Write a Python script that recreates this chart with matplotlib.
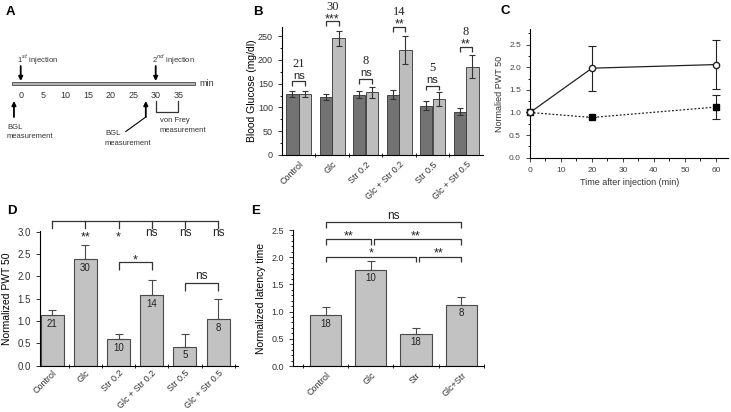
import matplotlib.pyplot as plt
import numpy as np
from matplotlib.ticker import MultipleLocator

plt.rcParams["font.family"] = ["Liberation Sans", "DejaVu Sans"]
plt.rcParams["axes.linewidth"] = 0.8

W, H = 731, 412  # figure size in pixels

# ---- panel A: protocol timeline (minutes)
timeline_ticks = [0, 5, 10, 15, 20, 25, 30, 35]
injection_min = [0, 30]
injection_labels = ["1$^{st}$ injection", "2$^{nd}$ injection"]
bgl_min = [-1.5, 27.8]
vonfrey_window = [30, 35]

# ---- panel B: blood glucose before / after
groups_b = ["Control", "Glc", "Str 0.2", "Glc + Str 0.2", "Str 0.5", "Glc + Str 0.5"]
bg_before = [128, 122, 127, 127, 104, 91]
bg_before_err = [6, 6, 7, 9, 10, 7]
bg_after = [129, 246, 132, 221, 118, 186]
bg_after_err = [6, 16, 12, 29, 14, 24]
n_b = [21, 30, 8, 14, 5, 8]
sig_b = ["ns", "***", "ns", "**", "ns", "**"]
bracket_b = [155, 281, 160, 269, 146, 227]

# ---- panel C: time course
time_c = [0, 20, 60]
pwt_open = [1.0, 1.98, 2.06]
pwt_open_err = [0, 0.50, 0.55]
pwt_filled = [1.0, 0.89, 1.12]
pwt_filled_err = [0, 0, 0.27]

# ---- panel D: normalized PWT 50
pwt_d = [1.13, 2.40, 0.60, 1.59, 0.43, 1.04]
pwt_d_err = [0.13, 0.30, 0.10, 0.34, 0.27, 0.46]
n_d = [21, 30, 10, 14, 5, 8]
sig_d = ["", "**", "*", "ns", "ns", "ns"]

# ---- panel E: normalized latency
groups_e = ["Control", "Glc", "Str", "Glc+Str"]
lat_e = [0.93, 1.76, 0.59, 1.13]
lat_e_err = [0.16, 0.17, 0.10, 0.13]
n_e = [18, 10, 18, 8]

DARK = "#737373"
LIGHT = "#bdbdbd"
BAR = "#c2c2c2"
EDGE = "#4a4a4a"
TXT = "#222222"
STAR = 9

fig = plt.figure(figsize=(W / 100, H / 100), dpi=100)


def px_axes(left, top, right, bottom):
    return fig.add_axes([left / W, 1 - bottom / H, (right - left) / W, (bottom - top) / H])


def bracket(ax, x0, x1, y, drop, lw=0.9):
    ax.plot([x0, x0, x1, x1], [y - drop, y, y, y - drop], color="#333333", lw=lw,
            clip_on=False, solid_capstyle="butt")


def style_axes(ax, labelsize=6.5):
    ax.spines["top"].set_visible(False)
    ax.spines["right"].set_visible(False)
    ax.tick_params(labelsize=labelsize, length=3, width=0.7, colors="#333333")
    ax.tick_params(which="minor", length=1.8, width=0.6)


# panel letters
for letter, (px, py) in {"A": (10, 12), "B": (258, 12), "C": (505, 11),
                         "D": (12, 211), "E": (256, 211)}.items():
    fig.text(px / W, 1 - py / H, letter, fontsize=9.5, fontweight="bold", va="center", ha="center")

# ========================================
# A: timeline diagram (pixel coordinates)
# ========================================
axA = fig.add_axes([0, 1 - 200 / H, 230 / W, 200 / H])
axA.set_xlim(0, 230)
axA.set_ylim(200, 0)
axA.axis("off")


def tx(m):
    return 20.7 + 4.5 * m


axA.add_patch(plt.Rectangle((12, 81.5), 183, 3, facecolor="#b5b5b5", edgecolor="#444444", lw=0.6))
for m in timeline_ticks:
    axA.text(tx(m), 95, str(m), fontsize=6.5, ha="center", va="center", color="#333333")
axA.text(199, 83, "min", fontsize=6.5, ha="left", va="center", color="#333333")

arrow_kw = dict(arrowstyle="-|>", color="black", lw=1.3, mutation_scale=6, shrinkA=0, shrinkB=0)
for m, lab in zip(injection_min, injection_labels):
    axA.annotate("", xy=(tx(m), 81), xytext=(tx(m), 66), arrowprops=arrow_kw)
    axA.text(tx(m) - 4, 60, lab, fontsize=5.5, ha="left", va="center", color="#333333")

for m in bgl_min:
    axA.annotate("", xy=(tx(m), 101), xytext=(tx(m), 117), arrowprops=arrow_kw)
axA.plot([tx(bgl_min[1]), tx(bgl_min[1]) - 20], [117, 131.5], color="black", lw=0.8)
axA.text(7, 132, "BGL\nmeasurement", fontsize=5.5, ha="left", va="center", linespacing=1.5, color="#333333")
axA.text(105, 138.5, "BGL\nmeasurement", fontsize=5.5, ha="left", va="center", linespacing=1.5, color="#333333")

v0, v1 = tx(vonfrey_window[0]), tx(vonfrey_window[1])
axA.plot([v0, v0, v1, v1], [101, 112, 112, 101], color="#333333", lw=0.9)
axA.text(160, 125.5, "von Frey\nmeasurement", fontsize=5.5, ha="left", va="center", linespacing=1.5, color="#333333")

# ========================================
# B: blood glucose
# ========================================
axB = px_axes(282, 26.7, 482.8, 155)
xb = np.arange(len(groups_b))
ekw = dict(ecolor="#333333", elinewidth=0.8, capsize=2.5, capthick=0.8)
axB.bar(xb - 0.19, bg_before, 0.37, yerr=bg_before_err, color=DARK, edgecolor="#333333", lw=0.6, error_kw=ekw)
axB.bar(xb + 0.19, bg_after, 0.37, yerr=bg_after_err, color=LIGHT, edgecolor="#333333", lw=0.6, error_kw=ekw)
axB.set_xlim(-0.5, 5.5)
axB.set_ylim(0, 270)
style_axes(axB)
axB.yaxis.set_major_locator(MultipleLocator(50))
axB.yaxis.set_minor_locator(MultipleLocator(25))
axB.set_xticks(xb)
axB.set_xticks(xb[:-1] + 0.5, minor=True)
axB.tick_params(axis="x", which="major", length=0)
axB.tick_params(axis="x", which="minor", length=2.5, direction="inout")
axB.set_xticklabels(groups_b, rotation=45, ha="right", rotation_mode="anchor")
axB.set_ylabel("Blood Glucose (mg/dl)", fontsize=7.5, labelpad=1)
for i, (h, s, n) in enumerate(zip(bracket_b, sig_b, n_b)):
    bracket(axB, i - 0.19, i + 0.19, h, 10)
    if s == "ns":
        axB.text(i, h + 12, s, fontsize=8, ha="center", va="center", color=TXT)
        n_y = h + 37
    else:
        axB.text(i, h + 5, s, fontsize=STAR, ha="center", va="center", color=TXT, clip_on=False)
        n_y = h + 31
    axB.text(i, n_y, str(n), fontsize=9, ha="center", va="center", family="Liberation Serif",
             color=TXT, clip_on=False)

# ========================================
# C: time course
# ========================================
axC = px_axes(530, 29.3, 728.3, 157.7)
axC.errorbar(time_c, pwt_filled, yerr=pwt_filled_err, color="#222222", lw=0.9, ls=(0, (1.5, 1.5)),
             marker="s", ms=4.5, mfc="black", mec="black", capsize=3, elinewidth=0.8, capthick=0.8,
             clip_on=False, zorder=3)
axC.errorbar(time_c, pwt_open, yerr=pwt_open_err, color="#222222", lw=0.9, ls="-",
             marker="o", ms=4.5, mfc="white", mec="#222222", capsize=3, elinewidth=0.8, capthick=0.8,
             clip_on=False, zorder=4)
axC.set_xlim(0, 64)
axC.set_ylim(0, 2.84)
style_axes(axC, labelsize=6)
axC.tick_params(colors="#444444")
axC.xaxis.set_major_locator(MultipleLocator(10))
axC.xaxis.set_minor_locator(MultipleLocator(5))
axC.yaxis.set_major_locator(MultipleLocator(0.5))
axC.yaxis.set_minor_locator(MultipleLocator(0.25))
axC.yaxis.set_major_formatter(plt.FormatStrFormatter("%.1f"))
axC.set_xlabel("Time after injection (min)", fontsize=6.5, color="#333333", labelpad=3)
axC.set_ylabel("Normalied PWT 50", fontsize=6.5, color="#333333", labelpad=4)

# ========================================
# D: normalized PWT 50
# ========================================
axD = px_axes(40, 231, 238, 365.7)
xd = np.arange(len(groups_b))
axD.bar(xd, pwt_d, 0.69, yerr=[np.zeros(len(pwt_d)), pwt_d_err], color=BAR, edgecolor=EDGE, lw=0.8,
        error_kw=dict(ecolor=EDGE, elinewidth=0.8, capsize=3, capthick=0.8))
axD.set_xlim(-0.37, 5.6)
axD.set_ylim(0, 3.02)
style_axes(axD, labelsize=6.5)
axD.tick_params(axis="y", labelsize=7)
axD.yaxis.set_major_locator(MultipleLocator(0.5))
axD.yaxis.set_major_formatter(plt.FormatStrFormatter("%.1f"))
axD.set_xticks(xd)
axD.set_xticks(xd + 0.5, minor=True)
axD.tick_params(axis="x", which="major", length=0, pad=2)
axD.tick_params(axis="x", which="minor", length=2.5, direction="inout")
axD.set_xticklabels(groups_b, rotation=45, ha="right", rotation_mode="anchor")
axD.set_ylabel("Normalized PWT 50", fontsize=7.5, labelpad=4)
for i, (v, n) in enumerate(zip(pwt_d, n_d)):
    axD.text(i, v - 0.2, str(n), fontsize=7, ha="center", va="center", color=TXT)
axD.plot([0, 5], [3.24, 3.24], color="#333333", lw=0.9, clip_on=False)
for i, s in enumerate(sig_d):
    axD.plot([i, i], [3.09, 3.24], color="#333333", lw=0.9, clip_on=False)
    if s == "ns":
        axD.text(i, 2.97, s, fontsize=8.5, ha="center", va="center", color=TXT, clip_on=False)
    elif s:
        axD.text(i, 2.88, s, fontsize=STAR, ha="center", va="center", color=TXT, clip_on=False)
bracket(axD, 2, 3, 2.32, 0.18)
axD.text(2.5, 2.37, "*", fontsize=STAR, ha="center", va="center", color=TXT)
bracket(axD, 4, 5, 1.86, 0.18)
axD.text(4.5, 2.01, "ns", fontsize=8.5, ha="center", va="center", color=TXT)

# ========================================
# E: normalized latency time
# ========================================
axE = px_axes(293, 230, 484, 366)
xe = np.arange(len(groups_e))
axE.bar(xe, lat_e, 0.69, yerr=[np.zeros(len(lat_e)), lat_e_err], color=BAR, edgecolor=EDGE, lw=0.8,
        error_kw=dict(ecolor=EDGE, elinewidth=0.8, capsize=3, capthick=0.8))
axE.set_xlim(-0.72, 3.5)
axE.set_ylim(0, 2.5)
style_axes(axE, labelsize=6.5)
axE.yaxis.set_major_locator(MultipleLocator(0.5))
axE.yaxis.set_minor_locator(MultipleLocator(0.1))
axE.yaxis.set_major_formatter(plt.FormatStrFormatter("%.1f"))
axE.set_xticks(xe)
axE.set_xticks(np.append(xe - 0.5, 3.5), minor=True)
axE.tick_params(axis="x", which="major", length=0)
axE.tick_params(axis="x", which="minor", length=2.5, direction="inout")
axE.set_xticklabels(groups_e, rotation=45, ha="right", rotation_mode="anchor")
axE.set_ylabel("Normalized latency time", fontsize=7.5, labelpad=4)
for i, (v, n) in enumerate(zip(lat_e, n_e)):
    axE.text(i, v - 0.15, str(n), fontsize=7, ha="center", va="center", color=TXT)
bracket(axE, 0, 3, 2.64, 0.11)
axE.text(1.5, 2.76, "ns", fontsize=8.5, ha="center", va="center", color=TXT, clip_on=False)
bracket(axE, 0, 1, 2.33, 0.1)
axE.text(0.5, 2.385, "**", fontsize=STAR, ha="center", va="center", color=TXT)
bracket(axE, 1.06, 3, 2.33, 0.1)
axE.text(2.0, 2.385, "**", fontsize=STAR, ha="center", va="center", color=TXT)
bracket(axE, 0, 2, 2.01, 0.1)
axE.text(1.0, 2.065, "*", fontsize=STAR, ha="center", va="center", color=TXT)
bracket(axE, 2.06, 3, 2.01, 0.1)
axE.text(2.5, 2.065, "**", fontsize=STAR, ha="center", va="center", color=TXT)

fig.savefig("out.png", dpi=100)
